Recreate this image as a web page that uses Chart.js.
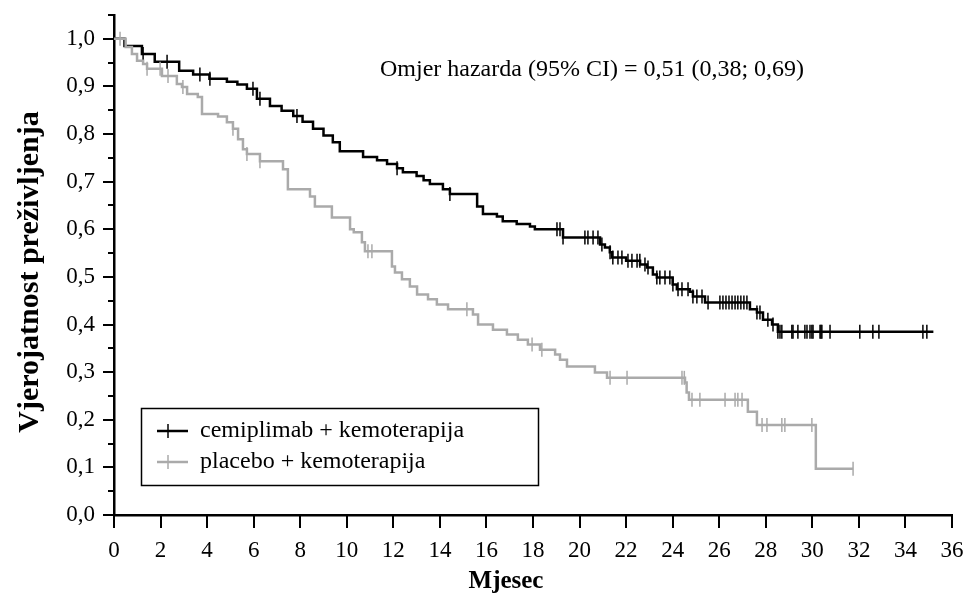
<!DOCTYPE html>
<html>
<head>
<meta charset="utf-8">
<script src="https://cdn.jsdelivr.net/npm/chart.js@4.4.0/dist/chart.umd.min.js"></script>
<style>
  html, body { margin: 0; padding: 0; background: #fff; }
</style>
</head>
<body>
<canvas id="chart" width="963" height="595"></canvas>
<script>
// Kaplan-Meier: time of each drop (months) and survival right after it
const cemiTime = [0, 0.45, 1.2, 1.75, 2.8, 3.4, 4.1, 4.85, 5.3, 5.71, 6.14, 6.7, 7.2, 7.7, 8.1, 8.55, 9.0, 9.4, 9.7,
  10.7, 11.3, 11.73, 12.16, 12.41, 13.0, 13.3, 13.57, 14.13, 14.43, 15.6, 15.85, 16.45, 16.7, 17.3, 17.87, 18.08,
  19.29, 20.88, 21.09, 21.3, 21.4, 22.0, 22.6, 22.9, 23.15, 23.32, 24.0, 24.18, 24.74, 24.87, 25.39,
  27.32, 27.62, 27.88, 28.27, 28.52, 35.2];
const cemiSurv = [1.0, 0.985, 0.968, 0.952, 0.933, 0.925, 0.916, 0.91, 0.904, 0.895, 0.874, 0.859, 0.849, 0.838, 0.826, 0.811, 0.797, 0.783, 0.764,
  0.752, 0.745, 0.737, 0.728, 0.72, 0.712, 0.703, 0.695, 0.684, 0.674, 0.648, 0.632, 0.627, 0.617, 0.611, 0.606, 0.6,
  0.583, 0.568, 0.562, 0.552, 0.541, 0.534, 0.526, 0.52, 0.505, 0.499, 0.484, 0.474, 0.469, 0.459, 0.446,
  0.432, 0.425, 0.41, 0.4, 0.385, 0.385];

const placeboTime = [0, 0.5, 0.77, 0.99, 1.25, 1.42, 2.06, 2.7, 2.92, 3.14, 3.6, 3.78, 4.47, 4.85, 5.11, 5.33, 5.54, 5.71, 6.27,
  7.26, 7.47, 8.42, 8.63, 9.36, 10.14, 10.3, 10.65, 10.78, 11.94, 12.07, 12.37, 12.71, 13.02, 13.49, 13.87, 14.35,
  15.42, 15.64, 16.28, 16.88, 17.35, 17.78, 18.3, 18.95, 19.16, 19.46, 20.66, 21.18, 24.53, 24.6, 24.7,
  27.23, 27.62, 30.15, 31.75];
const placeboSurv = [1.0, 0.983, 0.968, 0.954, 0.947, 0.937, 0.922, 0.905, 0.899, 0.884, 0.878, 0.842, 0.837, 0.825, 0.811, 0.789, 0.768, 0.758, 0.743,
  0.726, 0.684, 0.669, 0.648, 0.625, 0.6, 0.594, 0.573, 0.554, 0.522, 0.509, 0.495, 0.48, 0.463, 0.453, 0.442, 0.432,
  0.421, 0.4, 0.389, 0.379, 0.368, 0.358, 0.347, 0.337, 0.326, 0.312, 0.299, 0.288, 0.278, 0.257, 0.242,
  0.217, 0.189, 0.097, 0.097];

// censored observations (months)
const cemiCensor = [1.25, 2.28, 3.69, 4.12, 5.97, 6.27, 7.86, 12.16, 14.43, 19.03, 19.16, 19.29,
  20.23, 20.36, 20.58, 20.79, 20.96, 21.31, 21.43, 21.65, 21.82, 22.08, 22.25, 22.47, 22.59, 22.81, 22.94,
  23.32, 23.45, 23.67, 23.88, 24.01, 24.23, 24.4, 24.66, 24.87, 25.04, 25.26, 25.52,
  26.03, 26.16, 26.29, 26.42, 26.55, 26.68, 26.8, 26.93, 27.06, 27.19, 27.62, 27.75, 28.09, 28.31,
  28.52, 28.61, 28.69, 29.12, 29.17, 29.38, 29.68, 29.77, 29.9, 29.98, 30.03, 30.33, 30.37, 30.41,
  30.76, 32.04, 32.6, 32.86, 34.75, 34.92];
const placeboCensor = [0.26, 1.42, 1.98, 2.32, 2.96, 5.11, 5.71, 6.27, 10.91, 11.08, 15.16, 17.96, 18.38,
  21.31, 22.04, 24.4, 24.5, 24.83, 25.17, 26.25, 26.68, 26.8, 26.98, 27.84, 28.05, 28.69, 28.82, 29.98, 31.75];

const xTickValues = [0, 2, 4, 6, 8, 10, 12, 14, 16, 18, 20, 22, 24, 26, 28, 30, 32, 34, 36];
const yTickValues = [0, 0.1, 0.2, 0.3, 0.4, 0.5, 0.6, 0.7, 0.8, 0.9, 1.0];
const yTickLabels = ['0,0', '0,1', '0,2', '0,3', '0,4', '0,5', '0,6', '0,7', '0,8', '0,9', '1,0'];
const yMinorValues = [0.05, 0.15, 0.25, 0.35, 0.45, 0.55, 0.65, 0.75, 0.85, 0.95, 1.05];

const seriesNames = ['cemiplimab + kemoterapija', 'placebo + kemoterapija'];
const seriesColors = ['#000000', '#aaaaaa'];
const hrText = 'Omjer hazarda (95% CI) = 0,51 (0,38; 0,69)';
const xTitle = 'Mjesec';
const yTitle = 'Vjerojatnost preživljenja';

const SERIF = '"Liberation Serif", "Times New Roman", serif';

const toPoints = (t, s) => t.map((v, i) => ({ x: v, y: s[i] }));

// survival value at time t, read from the step data
const survAt = (times, surv, t) => {
  let s = surv[0];
  for (let i = 0; i < times.length; i++) {
    if (times[i] <= t) s = surv[i]; else break;
  }
  return s;
};
const censorPoints = (c, times, surv) => c.map(t => ({ x: t, y: survAt(times, surv, t) }));

// ticks, titles, hazard ratio text and boxed legend
const decor = {
  id: 'decor',
  afterDraw(chart) {
    const { ctx, scales: { x, y } } = chart;
    const x0 = x.left, y0 = y.bottom;
    ctx.save();
    ctx.strokeStyle = '#000';
    ctx.lineWidth = 2;
    ctx.beginPath();
    xTickValues.forEach(v => {
      const px = Math.round(x.getPixelForValue(v));
      ctx.moveTo(px, y0); ctx.lineTo(px, y0 + 13);
    });
    yTickValues.forEach(v => {
      const py = Math.round(y.getPixelForValue(v));
      ctx.moveTo(x0, py); ctx.lineTo(x0 - 11, py);
    });
    yMinorValues.forEach(v => {
      const py = Math.round(y.getPixelForValue(v));
      ctx.moveTo(x0, py); ctx.lineTo(x0 - 6, py);
    });
    ctx.stroke();

    ctx.fillStyle = '#000';
    ctx.textAlign = 'center';
    ctx.textBaseline = 'middle';
    ctx.font = 'bold 25px ' + SERIF;
    ctx.fillText(xTitle, 506, 582);
    ctx.save();
    ctx.translate(30, 272);
    ctx.rotate(-Math.PI / 2);
    ctx.font = 'bold 30px ' + SERIF;
    ctx.fillText(yTitle, 0, 0);
    ctx.restore();

    ctx.font = '24px ' + SERIF;
    ctx.textAlign = 'left';
    ctx.textBaseline = 'alphabetic';
    ctx.fillText(hrText, 380, 76);

    // legend box
    ctx.lineWidth = 1.5;
    ctx.strokeStyle = '#000';
    ctx.strokeRect(141.5, 408.5, 397, 77);
    seriesNames.forEach((name, i) => {
      const ly = 431 + i * 31;
      ctx.strokeStyle = seriesColors[i];
      ctx.lineWidth = 2.5;
      ctx.beginPath();
      ctx.moveTo(157, ly); ctx.lineTo(188, ly);
      ctx.stroke();
      ctx.lineWidth = 1.5;
      ctx.beginPath();
      ctx.moveTo(168, ly - 7); ctx.lineTo(168, ly + 7);
      ctx.stroke();
      ctx.fillStyle = '#000';
      ctx.font = '24px ' + SERIF;
      ctx.textBaseline = 'alphabetic';
      ctx.fillText(name, 200, ly + 6);
    });
    ctx.restore();
  }
};

const stepStyle = color => ({
  borderColor: color,
  borderWidth: 2.5,
  stepped: true,
  pointRadius: 0,
  fill: false
});
const censorStyle = color => ({
  type: 'scatter',
  showLine: false,
  borderColor: color,
  backgroundColor: color,
  borderWidth: 1.5,
  pointStyle: 'line',
  rotation: 90,
  pointRadius: 7
});

// no extra room for first/last tick labels: the plot box is set by layout padding
const noEdgePadding = s => {
  s.paddingTop = 0; s.paddingBottom = 0; s.paddingLeft = 0; s.paddingRight = 0;
};

new Chart(document.getElementById('chart'), {
  type: 'line',
  data: {
    datasets: [
      { label: seriesNames[1], data: toPoints(placeboTime, placeboSurv), ...stepStyle(seriesColors[1]) },
      { label: seriesNames[1], data: censorPoints(placeboCensor, placeboTime, placeboSurv), ...censorStyle(seriesColors[1]) },
      { label: seriesNames[0], data: toPoints(cemiTime, cemiSurv), ...stepStyle(seriesColors[0]) },
      { label: seriesNames[0], data: censorPoints(cemiCensor, cemiTime, cemiSurv), ...censorStyle(seriesColors[0]) }
    ]
  },
  options: {
    responsive: false,
    animation: false,
    layout: { padding: { top: 15, right: 11, left: 0, bottom: 0 } },
    plugins: { legend: { display: false }, tooltip: { enabled: false } },
    scales: {
      x: {
        type: 'linear',
        min: 0,
        max: 36,
        afterBuildTicks: s => { s.ticks = xTickValues.map(v => ({ value: v })); },
        afterFit: s => { s.height = 80; noEdgePadding(s); },
        grid: { display: false, drawTicks: false },
        border: { display: true, color: '#000', width: 2.5 },
        ticks: { color: '#000', font: { family: SERIF, size: 23 }, padding: 22, maxRotation: 0, autoSkip: false }
      },
      y: {
        min: 0,
        max: 1.05,
        afterBuildTicks: s => { s.ticks = yTickValues.map(v => ({ value: v })); },
        afterFit: s => { s.width = 114; noEdgePadding(s); },
        grid: { display: false, drawTicks: false },
        border: { display: true, color: '#000', width: 2.5 },
        ticks: {
          color: '#000',
          font: { family: SERIF, size: 23 },
          padding: 19,
          callback: (v, i) => yTickLabels[i]
        }
      }
    }
  },
  plugins: [decor]
});
</script>
</body>
</html>
